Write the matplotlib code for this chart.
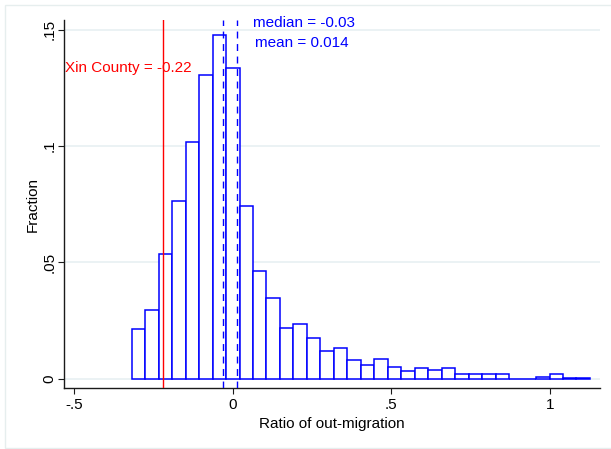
import matplotlib
matplotlib.use("Agg")
import matplotlib.pyplot as plt
from matplotlib.patches import Rectangle
import numpy as np

# Histogram of out-migration ratio (fraction of counties per bin)
bin_start = -0.3183
bin_end = 1.126
fractions = [0.0212, 0.0294, 0.0536, 0.0764, 0.1017, 0.1305, 0.1477, 0.1337,
             0.0742, 0.0463, 0.0348, 0.0219, 0.0233, 0.0176, 0.0119, 0.0133,
             0.0080, 0.0058, 0.0083, 0.0051, 0.0033, 0.0047, 0.0036, 0.0047,
             0.0019, 0.0019, 0.0019, 0.0019, 0.0, 0.0, 0.0008, 0.0019,
             0.0004, 0.0004]

xin_county = -0.22
median_val = -0.03
mean_val = 0.014

x_ticks = [-0.5, 0, 0.5, 1]
x_tick_labels = ["-.5", "0", ".5", "1"]
y_ticks = [0, 0.05, 0.1, 0.15]
y_tick_labels = ["0", ".05", ".1", ".15"]

W, H = 611, 449
plt.rcParams['font.family'] = ['Liberation Sans', 'DejaVu Sans']
fig = plt.figure(figsize=(W / 100, H / 100), dpi=100)
fig.patch.set_facecolor("white")

# light frame around the graph region (open on the right)
fig.patches.append(Rectangle((4.5 / W, 1 - 447.5 / H), 1.2, (447.5 - 4.5) / H,
                             transform=fig.transFigure, fill=False,
                             edgecolor="#E6EEEE", linewidth=1.0))

ax = fig.add_axes([64.3 / W, 1 - 388.3 / H, (600 - 64.3) / W, (388.3 - 20) / H])
ax.set_xlim(-0.5307, 1.1576)
ax.set_ylim(-0.00417, 0.1542)

for s in ["top", "right"]:
    ax.spines[s].set_visible(False)
for s in ["left", "bottom"]:
    ax.spines[s].set_color("#1a1a1a")
    ax.spines[s].set_linewidth(1.0)

# gridlines
for yt in y_ticks:
    ax.axhline(yt, color="#E8F0F2", linewidth=1.2, zorder=0)

n = len(fractions)
edges = np.linspace(bin_start, bin_end, n + 1)
widths = np.diff(edges)
ax.bar(edges[:-1], fractions, width=widths, align="edge", facecolor="white",
       edgecolor="#0000FF", linewidth=1.1, zorder=2)

ax.axvline(xin_county, color="#FF0000", linewidth=1.0, zorder=3)
ax.axvline(median_val, color="#0000FF", linewidth=1.0, linestyle=(0, (5, 4)), zorder=3)
ax.axvline(mean_val, color="#0000FF", linewidth=1.0, linestyle=(0, (5, 4)), zorder=3)

ax.text(-0.5285, 0.1334, f"Xin County = {xin_county:.2f}", color="#FF0000",
        fontsize=11, ha="left", va="center", zorder=4)
ax.text(0.065, 0.1528, f"median = {median_val:.2f}", color="#0000FF",
        fontsize=11, ha="left", va="center", zorder=4)
ax.text(0.070, 0.1444, f"mean = {mean_val:.3f}", color="#0000FF",
        fontsize=11, ha="left", va="center", zorder=4)

ax.set_xticks(x_ticks)
ax.set_xticklabels(x_tick_labels, fontsize=11)
ax.set_yticks(y_ticks)
ax.set_yticklabels(y_tick_labels, fontsize=11, rotation=90, va="center")
ax.tick_params(axis="both", direction="out", length=4.3, width=0.8,
               color="#1a1a1a")
ax.tick_params(axis="x", pad=3)
ax.tick_params(axis="y", pad=1.5)

ax.set_xlabel("Ratio of out-migration", fontsize=11, labelpad=3)
ax.set_ylabel("Fraction", fontsize=11, labelpad=1.5)

fig.savefig("out.png", dpi=100, facecolor="white")
